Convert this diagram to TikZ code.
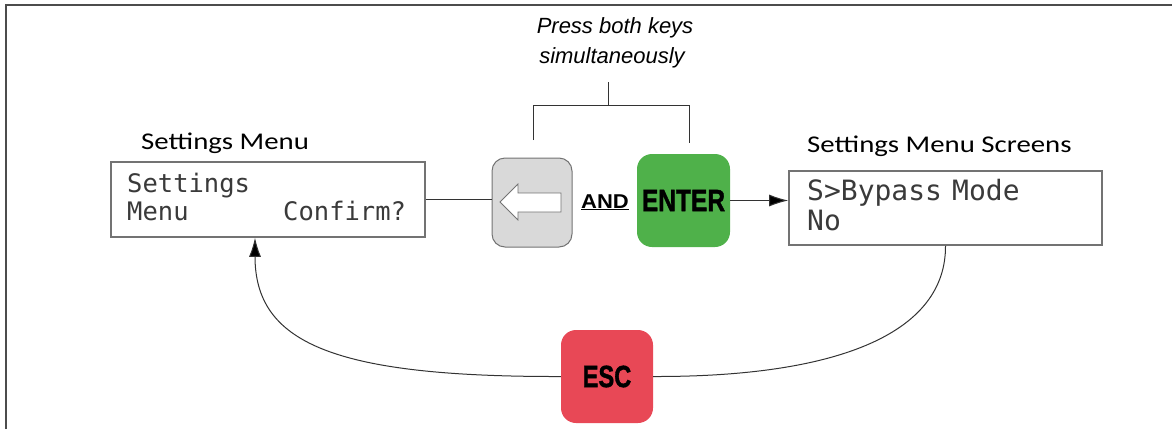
\documentclass[tikz,border=0pt]{standalone}
\usepackage{fontspec}
\setmainfont{Liberation Sans}
\newfontfamily\labelfont{Carlito}
\newfontfamily\lcdfont{DejaVu Sans Mono}
\newfontfamily\keyfont{Liberation Sans Bold}[FakeBold=1.5]
\usetikzlibrary{arrows.meta}
\definecolor{keygreen}{HTML}{4FB14A}
\definecolor{keyred}{HTML}{E84856}
\definecolor{keygray}{HTML}{D9D9D9}
\definecolor{lcdtext}{HTML}{3A3A3A}
\definecolor{linec}{HTML}{333333}
\begin{document}
\begin{tikzpicture}[x=1pt,y=-1pt,
  lcdbox/.style={draw=black!55,line width=1.6pt,fill=white,inner sep=0pt},
  lcdl/.style={font=\lcdfont\fontsize{25.5}{25.5}\selectfont,text=lcdtext,anchor=base west,inner sep=0pt},
  lcdr/.style={font=\lcdfont\fontsize{28}{28}\selectfont,text=lcdtext,anchor=base west,inner sep=0pt},
  title/.style={font=\labelfont\fontsize{24}{24}\selectfont,anchor=base west,inner sep=0pt},
  notetext/.style={font=\itshape\fontsize{22}{22}\selectfont,anchor=base,inner sep=0pt},
  keybox/.style={rounded corners=15pt,inner sep=0pt,minimum width=93pt,minimum height=93pt},
  keytext/.style={font=\keyfont\fontsize{30.7}{30.7}\selectfont,text=black},
  conn/.style={draw=linec,line width=1pt},
  arr/.style={conn,-{Latex[length=19pt,width=12pt,fill=black]}}]
\useasboundingbox (0,0) rectangle (1172,429);
% frame (top and left edges)
\draw[black!70,line width=2pt] (6,429) -- (6,5) -- (1172,5);

% left LCD
\node[lcdbox,minimum width=314pt,minimum height=75pt] (lcdL) at (268,199.5) {};
\node[lcdl] (l1) at (127,192) {Settings};
\node[lcdl] (l2) at (127,220) {Menu};
\node[lcdl] (l3) at (283,220) {Confirm?};
\node[title] (tL) at (141,149) {\scalebox{1.2}[1]{Settings Menu}};

% right LCD
\node[lcdbox,minimum width=313pt,minimum height=74pt] (lcdR) at (945.5,208) {};
\node[lcdr] (r1) at (807,200) {S>Bypass};
\node[lcdr] (r2) at (952,200) {Mode};
\node[lcdr] (r3) at (807,230) {No};
\node[title] (tR) at (807,152) {\scalebox{1.2}[1]{Settings Menu Screens}};

% gray key with hollow left arrow
\node[keybox,draw=black!55,line width=1pt,fill=keygray,minimum width=80pt,minimum height=89pt,rounded corners=13pt] (gkey) at (532,202.5) {};
\draw[draw=black!55,fill=white,line width=0.8pt,line join=miter]
  (500,202) -- (518,184) -- (518,193) -- (561,193) -- (561,212) -- (518,212) -- (518,220) -- cycle;

% AND
\node[font=\bfseries\fontsize{20}{20}\selectfont,anchor=base,inner sep=0pt] (and) at (605,208)
  {\scalebox{1.1}[1]{\underline{AND}}};

% green ENTER key
\node[keybox,fill=keygreen] (enter) at (683.5,200.5) {};
\node[keytext] (entert) at (enter.center) {\scalebox{0.8}[1]{ENTER}};

% red ESC key
\node[keybox,fill=keyred,minimum width=92pt] (esc) at (607,376.5) {};
\node[keytext] (esct) at (esc.center) {\scalebox{0.77}[1]{ESC}};

% italic note and bracket
\node[notetext] (note1) at (615,33) {Press both keys};
\node[notetext] (note2) at (612,63) {simultaneously};
\coordinate (bt) at (608,82);
\coordinate (bm) at (608,105);
\coordinate (bl) at (533,140);
\coordinate (br) at (689,143);
\draw[conn] (bt) -- (bm);
\draw[conn] (bl) -- (bl |- bm) -- (br |- bm) -- (br);

% connectors
\draw[conn] (lcdL.east) -- (lcdL.east -| gkey.west);
\draw[arr] (enter.east) -- (enter.east -| lcdR.west);
\draw[conn] (lcdR.south) .. controls (946,331) and (843,377) .. (esc.east);
\draw[arr] (esc.west) .. controls (331,377) and (255,342) .. ([xshift=-13pt]lcdL.south);
\end{tikzpicture}
\end{document}
